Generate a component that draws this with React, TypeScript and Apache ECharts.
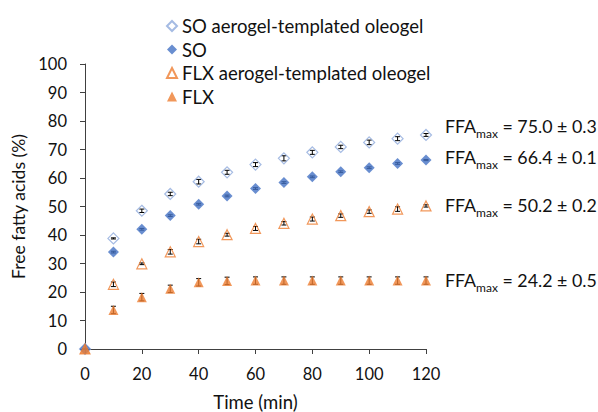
import React, { useEffect, useRef } from "react";
import * as echarts from "echarts";

const times = [0, 10, 20, 30, 40, 50, 60, 70, 80, 90, 100, 110, 120];
const soAerogel = [0, 38.8, 48.5, 54.4, 58.7, 62.0, 64.7, 66.9, 69.0, 70.9, 72.5, 73.8, 75.1];
const soAerogelErr = [0, 0.2, 0.6, 0.6, 0.8, 0.7, 0.7, 0.9, 0.7, 0.6, 0.8, 0.7, 0.5];
const so = [0, 34.0, 42.0, 46.8, 50.8, 53.7, 56.3, 58.4, 60.4, 62.2, 63.6, 65.1, 66.3];
const soErr = [0, 0.3, 0.3, 0.3, 0.3, 0.3, 0.3, 0.3, 0.3, 0.3, 0.3, 0.3, 0.2];
const flxAerogel = [0, 22.7, 29.9, 34.1, 37.7, 40.1, 42.3, 44.1, 45.6, 46.8, 48.2, 49.1, 50.2];
const flxAerogelErr = [0, 0.8, 0.3, 0.8, 0.8, 0.5, 0.7, 0.6, 0.7, 0.6, 0.6, 0.8, 0.4];
const flx = [0, 13.7, 18.2, 21.1, 23.4, 23.9, 24.0, 24.0, 24.0, 24.0, 24.0, 24.0, 24.0];
const flxErr = [0, 1.3, 1.3, 1.3, 1.3, 1.3, 1.3, 1.3, 1.3, 1.3, 1.3, 1.3, 1.3];

const seriesNames = [
  "SO aerogel-templated oleogel",
  "SO",
  "FLX aerogel-templated oleogel",
  "FLX",
];
const ffaValues = ["75.0 ± 0.3", "66.4 ± 0.1", "50.2 ± 0.2", "24.2 ± 0.5"];

const FONT = "Lato";
const BLUE = "#4472C4";
const LIGHT_BLUE = "#8FAADC";
const ORANGE = "#ED7D31";
const TEXT = "#111";

function pairs(vals: number[]) {
  return times.map((t, i) => [t, vals[i]]);
}
function errTriples(vals: number[], errs: number[]) {
  return times.map((t, i) => [t, vals[i], errs[i]]);
}

function errorSeries(vals: number[], errs: number[]) {
  return {
    type: "custom",
    z: 1,
    silent: true,
    clip: false,
    data: errTriples(vals, errs),
    renderItem: (params: any, api: any) => {
      const x = api.value(0);
      const y = api.value(1);
      const e = api.value(2);
      const top = api.coord([x, y + e]);
      const bot = api.coord([x, y - e]);
      const hw = 2.5;
      const style = { stroke: "#000", lineWidth: 1 };
      return {
        type: "group",
        children: [
          { type: "line", shape: { x1: top[0], y1: top[1], x2: bot[0], y2: bot[1] }, style },
          { type: "line", shape: { x1: top[0] - hw, y1: top[1], x2: top[0] + hw, y2: top[1] }, style },
          { type: "line", shape: { x1: bot[0] - hw, y1: bot[1], x2: bot[0] + hw, y2: bot[1] }, style },
        ],
      };
    },
  };
}

export default function App() {
  const ref = useRef<HTMLDivElement>(null);
  useEffect(() => {
    if (!ref.current) return;
    const chart = echarts.init(ref.current, undefined, { renderer: "svg" });
    const annY = [128, 159, 207, 282];
    chart.setOption({
      animation: false,
      textStyle: { fontFamily: FONT },
      grid: { left: 85, right: 172, top: 64, bottom: 63, containLabel: false, outerBoundsMode: "none" },
      legend: {
        orient: "vertical",
        left: 161,
        top: 11,
        itemWidth: 10,
        itemHeight: 10,
        itemGap: 3.5,
        textStyle: { fontSize: 18.5, color: TEXT, fontFamily: FONT, lineHeight: 20 },
        data: seriesNames,
      },
      xAxis: {
        type: "value",
        min: 0,
        max: 120,
        interval: 20,
        name: "Time (min)",
        nameLocation: "middle",
        nameGap: 43,
        nameTextStyle: { fontSize: 18.5, color: TEXT, fontFamily: FONT },
        axisLine: { lineStyle: { color: "#404040", width: 1 } },
        axisTick: { show: true, length: 5, lineStyle: { color: "#404040" } },
        axisLabel: { fontSize: 16.5, color: TEXT, margin: 16, fontFamily: FONT },
        splitLine: { show: false },
      },
      yAxis: {
        type: "value",
        min: 0,
        max: 100,
        interval: 10,
        name: "Free fatty acids (%)",
        nameLocation: "middle",
        nameGap: 55,
        nameTextStyle: { fontSize: 17.6, color: TEXT, fontFamily: FONT },
        axisLine: { show: true, lineStyle: { color: "#404040", width: 1 } },
        axisTick: { show: true, length: 5, lineStyle: { color: "#404040" } },
        axisLabel: { fontSize: 16.5, color: TEXT, margin: 18, fontFamily: FONT },
        splitLine: { show: false },
      },
      graphic: ffaValues.map((v, i) => ({
        type: "text",
        left: 445,
        top: annY[i] - 11,
        style: {
          text: `{a|FFA}{s|max}{a| = ${v}}`,
          rich: {
            a: { fontSize: 17.8, fontFamily: FONT, fill: TEXT, lineHeight: 22, verticalAlign: "top" },
            s: { fontSize: 12, fontFamily: FONT, fill: TEXT, lineHeight: 13, verticalAlign: "bottom", padding: [7, 0, 0, 0] },
          },
        },
      })),
      series: [
        errorSeries(soAerogel, soAerogelErr),
        errorSeries(so, soErr),
        errorSeries(flxAerogel, flxAerogelErr),
        errorSeries(flx, flxErr),
        {
          name: seriesNames[0],
          type: "scatter",
          z: 2,
          clip: false,
          symbol: "diamond",
          symbolSize: 11,
          itemStyle: { color: "rgba(255,255,255,0)", borderColor: LIGHT_BLUE, borderWidth: 1.2 },
          data: pairs(soAerogel),
        },
        {
          name: seriesNames[1],
          type: "scatter",
          z: 2,
          clip: false,
          symbol: "diamond",
          symbolSize: 11,
          itemStyle: { color: BLUE },
          data: pairs(so),
        },
        {
          name: seriesNames[2],
          type: "scatter",
          z: 2,
          clip: false,
          symbol: "triangle",
          symbolSize: 10,
          itemStyle: { color: "rgba(255,255,255,0)", borderColor: ORANGE, borderWidth: 1.2 },
          data: pairs(flxAerogel),
        },
        {
          name: seriesNames[3],
          type: "scatter",
          z: 2,
          clip: false,
          symbol: "triangle",
          symbolSize: 10,
          itemStyle: { color: ORANGE },
          data: pairs(flx),
        },
      ],
    });
    return () => chart.dispose();
  }, []);
  return <div ref={ref} style={{ width: 598, height: 412, position: "absolute", left: 0, top: 0 }} />;
}
